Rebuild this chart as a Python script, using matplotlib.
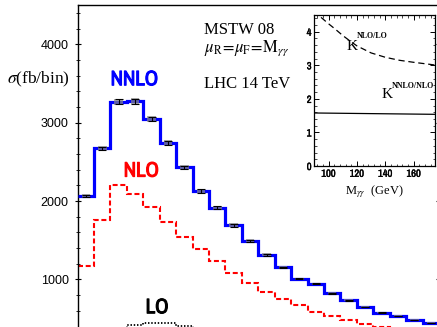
import matplotlib
matplotlib.use('Agg')
import matplotlib.pyplot as plt
import matplotlib.patheffects as pe
from matplotlib.ticker import MultipleLocator
import numpy as np

# M_gamma_gamma bins (GeV), 5 GeV wide
edges = np.arange(80, 191, 5)
nnlo = [2063, 2672, 3267, 3270, 3045, 2745, 2428, 2127, 1916, 1693, 1493, 1314,
        1153, 1008, 948, 825, 735, 650, 578, 535, 482, 446]
nnlo_err = [15, 20, 32, 32, 30, 27, 25, 22, 20, 18, 15, 12,
            10, 8, 7, 6, 5, 5, 4, 4, 3, 3]
nlo = [1178, 1753, 2203, 2085, 1927, 1736, 1544, 1383, 1240, 1084, 956, 841,
       757, 671, 590, 532, 480, 438, 395, 360, 330, 300]
lo = [230, 310, 380, 425, 448, 443, 410, 370, 330, 290, 255, 225,
      200, 178, 160, 145, 130, 118, 107, 97, 88, 80]

# inset: K factors
k1_m = [90, 95, 100, 105, 110, 115, 120, 130, 140, 150, 160, 175]
k1 = [4.65, 4.42, 4.24, 4.07, 3.89, 3.73, 3.58, 3.37, 3.24, 3.15, 3.09, 3.01]
k2_m = [90, 175]
k2 = [1.58, 1.54]

narrow = ['Archivo Narrow', 'DejaVu Sans']
serif = ['Liberation Serif', 'DejaVu Serif']
plt.rcParams['mathtext.fontset'] = 'stix'

W, H = 437, 327
fig = plt.figure(figsize=(W / 100, H / 100), dpi=100)
ax = fig.add_axes([77.6 / W, 0, (439 - 77.6) / W, (327 - 5) / H])

centers = (edges[:-1] + edges[1:]) / 2
ax.stairs(nlo, edges, baseline=None, color='#ff0000', lw=1.5,
          linestyle=(0, (2.4, 1.3)), zorder=2)
ax.stairs(lo, edges, baseline=None, color='black', lw=1.3,
          linestyle=(0, (0.8, 1.0)), zorder=2)
ax.stairs(nnlo, edges, baseline=None, color='#0000ff', lw=2.3, zorder=3)
err = np.array(nnlo_err)
ax.bar(centers, 2 * err + 12, bottom=np.array(nnlo) - err - 6, width=2.6,
       color='#888888', alpha=0.7, zorder=3.5)
ax.errorbar(centers, nnlo, yerr=err, fmt='none', ecolor='black', capsize=3,
            elinewidth=0.8, capthick=0.8, zorder=4)

ax.set_xlim(80, 190)
ax.set_ylim(394, 4500)
ax.spines['bottom'].set_visible(False)
ax.yaxis.set_major_locator(MultipleLocator(1000))
ax.yaxis.set_minor_locator(MultipleLocator(200))
ax.tick_params(axis='y', which='major', direction='inout', length=5, width=0.8,
               left=True, right=True, labelsize=9, pad=4)
ax.tick_params(axis='y', which='minor', direction='inout', length=2.5, width=0.6,
               left=True, right=True)
ax.tick_params(axis='x', which='both', bottom=False, top=False, labelbottom=False)
for lab in ax.get_yticklabels():
    lab.set_family(['Liberation Sans', 'DejaVu Sans'])
for s in ax.spines.values():
    s.set_linewidth(1.0)

for x, y, txt, c in [(97.3, 3547, 'NNLO', '#0000ff'), (99.4, 2382, 'NLO', '#ff0000'),
                     (104.2, 640, 'LO', 'black')]:
    ax.text(x, y, txt, color=c, fontsize=15, family=narrow, ha='center', va='center',
            path_effects=[pe.withStroke(linewidth=0.8, foreground=c)])

ax.text(118.5, 4130, 'MSTW 08', fontsize=12, family=serif, ha='left', va='baseline')
ax.text(118.5, 3912, r'$\mu_{\rm R}\!=\!\mu_{\rm F}\!=\!{\rm M}_{\gamma\gamma}$',
        fontsize=12, ha='left', va='baseline')
ax.text(118.5, 3442, 'LHC 14 TeV', fontsize=12, family=serif, ha='left', va='baseline')

fig.text(7 / W, 1 - 79 / H, r'$\sigma$(fb/bin)', fontsize=12.5, family=serif,
         ha='left', va='center')

# inset
ins = fig.add_axes([314.3 / W, 1 - 166 / H, (435 - 314.3) / W, (166 - 15) / H])
ins.plot(k1_m, k1, color='black', lw=0.9, linestyle=(0, (5, 3)))
ins.plot(k2_m, k2, color='black', lw=0.9)
ins.set_xlim(90, 175)
ins.set_ylim(0, 4.5)
ins.xaxis.set_major_locator(MultipleLocator(20))
ins.xaxis.set_minor_locator(MultipleLocator(4))
ins.yaxis.set_major_locator(MultipleLocator(1))
ins.yaxis.set_minor_locator(MultipleLocator(0.2))
ins.tick_params(which='major', direction='in', length=3.5, width=0.7,
                top=True, right=True, labelsize=7.5, pad=2)
ins.tick_params(which='minor', direction='in', length=1.8, width=0.5,
                top=True, right=True)
for lab in ins.get_xticklabels() + ins.get_yticklabels():
    lab.set_family(narrow)
    lab.set_path_effects([pe.withStroke(linewidth=0.3, foreground='black')])
for s in ins.spines.values():
    s.set_linewidth(0.9)
ins.set_xlabel(r'M$_{\gamma\gamma}$  (GeV)', fontsize=9, family=serif, labelpad=3)
ins.text(112.8, 3.47, 'K', fontsize=11, family=serif, ha='left', va='baseline')
ins.text(119.9, 3.80, 'NLO/LO', fontsize=5.8, fontweight='bold', family=serif,
         ha='left', va='baseline')
ins.text(137.5, 2.03, 'K', fontsize=11, family=serif, ha='left', va='baseline')
ins.text(144.5, 2.31, 'NNLO/NLO', fontsize=5.8, fontweight='bold', family=serif,
         ha='left', va='baseline')

fig.savefig('out.png', dpi=100)
